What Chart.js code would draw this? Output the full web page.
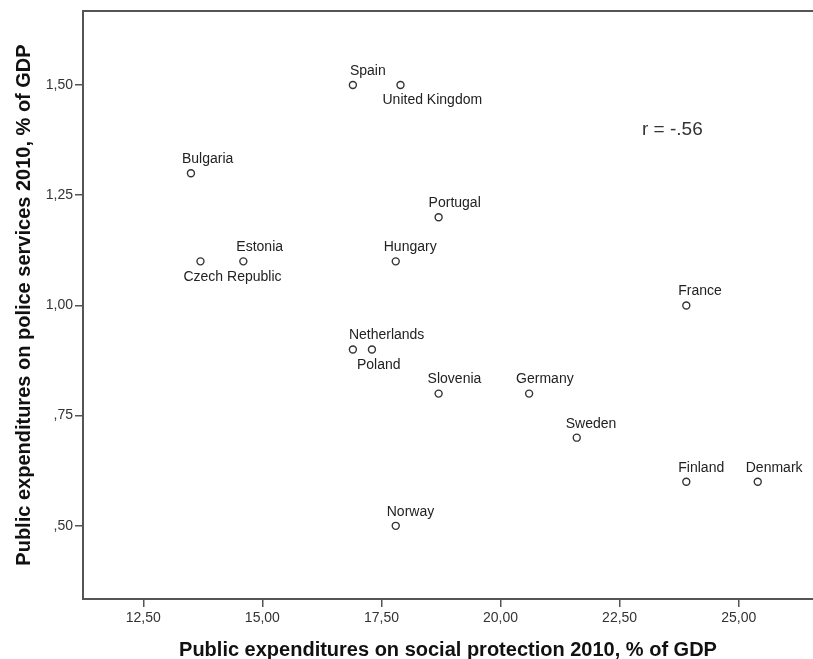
<!DOCTYPE html>
<html>
<head>
<meta charset="utf-8">
<script src="https://cdn.jsdelivr.net/npm/chart.js@4/dist/chart.umd.min.js"></script>
<style>
  html, body { margin: 0; padding: 0; background: #ffffff; overflow: hidden; }
  #wrap { width: 813px; height: 659px; }
  canvas { display: block; }
</style>
</head>
<body>
<div id="wrap"><canvas id="c" width="813" height="659"></canvas></div>
<script>
// Countries and their public expenditure shares (% of GDP), 2010
const countries = ['Spain', 'United Kingdom', 'Bulgaria', 'Portugal', 'Czech Republic', 'Estonia',
  'Hungary', 'France', 'Netherlands', 'Poland', 'Slovenia', 'Germany', 'Sweden', 'Finland',
  'Denmark', 'Norway'];
const socialProtection = [16.9, 17.9, 13.5, 18.7, 13.7, 14.6, 17.8, 23.9, 16.9, 17.3, 18.7, 20.6,
  21.6, 23.9, 25.4, 17.8];
const policeServices = [1.50, 1.50, 1.30, 1.20, 1.10, 1.10, 1.10, 1.00, 0.90, 0.90, 0.80, 0.80,
  0.70, 0.60, 0.60, 0.50];
const xTickValues = [12.5, 15, 17.5, 20, 22.5, 25];
const xTickLabels = ['12,50', '15,00', '17,50', '20,00', '22,50', '25,00'];
const yTickValues = [0.5, 0.75, 1.0, 1.25, 1.5];
const yTickLabels = [',50', ',75', '1,00', '1,25', '1,50'];
const correlationText = 'r = -.56';

// Label placement: horizontal shift of the label's left edge (px) and whether it sits below the marker
const labelPlacement = {
  'Spain': { dx: -3, below: false },
  'United Kingdom': { dx: -18, below: true },
  'Bulgaria': { dx: -9, below: false },
  'Portugal': { dx: -10, below: false },
  'Czech Republic': { dx: -17, below: true },
  'Estonia': { dx: -7, below: false },
  'Hungary': { dx: -12, below: false },
  'France': { dx: -8, below: false },
  'Netherlands': { dx: -4, below: false },
  'Poland': { dx: -15, below: true },
  'Slovenia': { dx: -11, below: false },
  'Germany': { dx: -13, below: false },
  'Sweden': { dx: -11, below: false },
  'Finland': { dx: -8, below: false },
  'Denmark': { dx: -12, below: false },
  'Norway': { dx: -9, below: false }
};

const FONT = '"Liberation Sans", Arial, sans-serif';
const points = countries.map((c, i) => ({ x: socialProtection[i], y: policeServices[i] }));

const pointLabels = {
  id: 'pointLabels',
  afterDatasetsDraw(chart) {
    const ctx = chart.ctx;
    const meta = chart.getDatasetMeta(0);
    ctx.save();
    ctx.font = '14px ' + FONT;
    ctx.fillStyle = '#222222';
    ctx.textAlign = 'left';
    ctx.textBaseline = 'middle';
    meta.data.forEach((el, i) => {
      const p = labelPlacement[countries[i]] || { dx: -10, below: false };
      ctx.fillText(countries[i], el.x + p.dx, el.y + (p.below ? 15.5 : -14));
    });
    // correlation note
    const xs = chart.scales.x, ys = chart.scales.y;
    ctx.font = '19px ' + FONT;
    ctx.fillStyle = '#333333';
    ctx.fillText(correlationText, xs.getPixelForValue(22.97), ys.getPixelForValue(1.398));
    // frame top edge
    const a = chart.chartArea;
    ctx.strokeStyle = '#555555';
    ctx.lineWidth = 2;
    ctx.beginPath();
    ctx.moveTo(a.left, a.top);
    ctx.lineTo(a.right, a.top);
    ctx.stroke();
    ctx.restore();
  }
};

new Chart(document.getElementById('c'), {
  type: 'scatter',
  data: {
    datasets: [{
      data: points,
      pointRadius: 3.5,
      pointHoverRadius: 3.5,
      pointBorderWidth: 1.4,
      pointBorderColor: '#333333',
      pointBackgroundColor: 'rgba(255,255,255,0)'
    }]
  },
  options: {
    responsive: false,
    animation: false,
    devicePixelRatio: 1,
    layout: { autoPadding: false, padding: { top: 11, right: 0, left: 0, bottom: 0 } },
    plugins: { legend: { display: false }, tooltip: { enabled: false } },
    scales: {
      x: {
        type: 'linear',
        min: 11.234,
        max: 26.56,
        afterFit(scale) { scale.height = 60; scale.paddingRight = 0; scale.paddingLeft = 0; },
        afterBuildTicks(scale) { scale.ticks = xTickValues.map(v => ({ value: v })); },
        ticks: {
          padding: 3,
          color: '#333333',
          font: { family: FONT, size: 14 },
          callback(v) { const i = xTickValues.indexOf(v); return i >= 0 ? xTickLabels[i] : ''; }
        },
        grid: { display: true, drawOnChartArea: false, drawTicks: true, tickLength: 8, color: '#555555', lineWidth: 1.5 },
        border: { display: true, color: '#555555', width: 2 },
        title: {
          display: true,
          text: 'Public expenditures on social protection 2010, % of GDP',
          color: '#111111',
          font: { family: FONT, size: 20, weight: 'bold', lineHeight: 0.9 },
          padding: { top: 0, bottom: 0 }
        }
      },
      y: {
        type: 'linear',
        min: 0.334,
        max: 1.668,
        afterFit(scale) { scale.width = 83; scale.paddingTop = 0; scale.paddingBottom = 0; },
        afterBuildTicks(scale) { scale.ticks = yTickValues.map(v => ({ value: v })); },
        ticks: {
          padding: 2,
          color: '#333333',
          font: { family: FONT, size: 14 },
          callback(v) { const i = yTickValues.indexOf(v); return i >= 0 ? yTickLabels[i] : ''; }
        },
        grid: { display: true, drawOnChartArea: false, drawTicks: true, tickLength: 8, color: '#555555', lineWidth: 1.5 },
        border: { display: true, color: '#555555', width: 2 },
        title: {
          display: true,
          text: 'Public expenditures on police services 2010, % of GDP',
          color: '#111111',
          font: { family: FONT, size: 20, weight: 'bold', lineHeight: 1.2 },
          padding: { top: 12, bottom: 0 }
        }
      }
    }
  },
  plugins: [pointLabels]
});
</script>
</body>
</html>
